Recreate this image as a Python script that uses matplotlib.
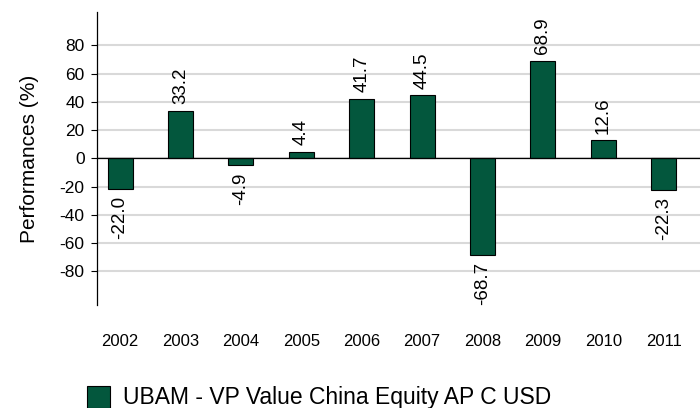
import matplotlib.pyplot as plt
import numpy as np

plt.rcParams['font.family'] = ['Liberation Sans', 'DejaVu Sans']
plt.rcParams['axes.unicode_minus'] = False

# yearly performance figures
years = ["2002", "2003", "2004", "2005", "2006", "2007", "2008", "2009", "2010", "2011"]
perf = [-22.0, 33.2, -4.9, 4.4, 41.7, 44.5, -68.7, 68.9, 12.6, -22.3]
fund_name = "UBAM - VP Value China Equity AP C USD"

bar_color = "#03573d"

fig = plt.figure(figsize=(7, 4.08), dpi=100)
ax = fig.add_axes([97 / 700, 103 / 408, 603 / 700, 293 / 408])

x = np.arange(len(years))
bars = ax.bar(x, perf, width=0.414, color=bar_color, edgecolor="black",
              linewidth=0.8, zorder=3)

# value labels, rotated, above or below each bar
for xi, v in zip(x, perf):
    ax.annotate(f"{v:.1f}", (xi, v), xytext=(0, 5 if v >= 0 else -5),
                textcoords="offset points", rotation=90, ha="center",
                va="bottom" if v >= 0 else "top", fontsize=13.5)

ax.set_xlim(-0.381, 9.6)
ax.set_ylim(-103.9, 103.6)
ax.set_yticks(np.arange(-80, 81, 20))
ax.tick_params(axis="y", labelsize=12.5, length=4, width=0.8, pad=5)
ax.set_xticks(x)
ax.set_xticklabels(years)
ax.tick_params(axis="x", labelsize=12, length=0, pad=21)

ax.grid(axis="y", color="#d9d9d9", linewidth=1.5, zorder=0)
ax.axhline(0, color="black", linewidth=0.9, zorder=4)

for side in ["top", "right", "bottom"]:
    ax.spines[side].set_visible(False)
ax.spines["left"].set_linewidth(0.9)

ax.set_ylabel("Performances (%)", fontsize=15, labelpad=15)

# legend
leg = fig.legend([bars], [fund_name], loc="lower left",
                 bbox_to_anchor=(66 / 700, -22 / 408), frameon=False,
                 fontsize=16.5, handlelength=1.0, handleheight=1.1,
                 handletextpad=0.6)

fig.savefig("out.png", dpi=100)
